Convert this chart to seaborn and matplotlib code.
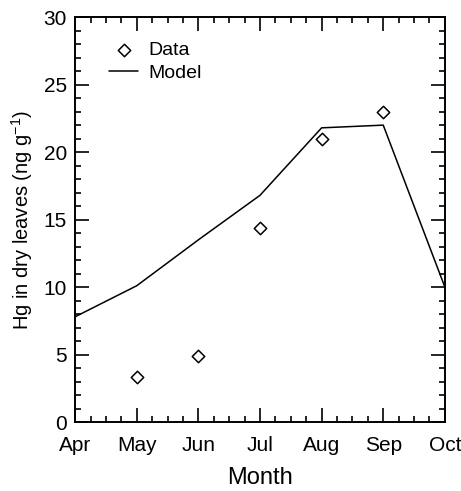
import numpy as np
import pandas as pd
import matplotlib
matplotlib.use('Agg')
import matplotlib.pyplot as plt
import seaborn as sns
from matplotlib.ticker import MultipleLocator

# valores
meses = ['Apr', 'May', 'Jun', 'Jul', 'Aug', 'Sep', 'Oct']
meses_dados = ['May', 'Jun', 'Jul', 'Aug', 'Sep']
hg_dados = [3.3, 4.9, 14.4, 21.0, 23.0]
meses_modelo = ['Apr', 'May', 'Jun', 'Jul', 'Aug', 'Sep', 'Oct']
hg_modelo = [7.8, 10.1, 13.5, 16.8, 21.8, 22.0, 10.0]

df_dados = pd.DataFrame({'mes': [meses.index(m) for m in meses_dados], 'hg': hg_dados})
df_modelo = pd.DataFrame({'mes': [meses.index(m) for m in meses_modelo], 'hg': hg_modelo})

sns.set_style('ticks')
plt.rcParams['font.family'] = ['Liberation Sans', 'DejaVu Sans']
plt.rcParams['mathtext.default'] = 'regular'
for k in ['text.color', 'axes.labelcolor', 'xtick.color', 'ytick.color', 'axes.edgecolor']:
    plt.rcParams[k] = 'black'

fig = plt.figure(figsize=(4.61, 4.91), dpi=100)
ax = fig.add_axes([0.163, 0.1405, 0.802, 0.8245])

sns.scatterplot(data=df_dados, x='mes', y='hg', marker='D', s=40, facecolor='white',
                edgecolor='black', linewidth=1.1, ax=ax, label='Data', zorder=3)
sns.lineplot(data=df_modelo, x='mes', y='hg', color='black', linewidth=1.1, ax=ax, label='Model')

ax.set_xlim(0, 6)
ax.set_ylim(0, 30)
ax.set_xticks(range(len(meses)))
ax.set_xticklabels(meses)
ax.xaxis.set_minor_locator(MultipleLocator(0.25))
ax.yaxis.set_major_locator(MultipleLocator(5))
ax.yaxis.set_minor_locator(MultipleLocator(1))
ax.tick_params(which='both', direction='in', top=True, right=True, labelsize=15, width=1.2)
ax.tick_params(axis='x', pad=10)
ax.tick_params(axis='y', pad=6)
ax.tick_params(which='major', length=10)
ax.tick_params(which='minor', length=4)
for s in ax.spines.values():
    s.set_linewidth(1.4)
    s.set_visible(True)

ax.set_xlabel('Month', fontsize=17, labelpad=9)
ax.set_ylabel('Hg in dry leaves (ng g$^{-1}$)', fontsize=14.5, labelpad=6)

ax.legend(loc='upper left', frameon=False, fontsize=14, handlelength=1.5, handletextpad=0.5,
          bbox_to_anchor=(0.06, 0.97), borderaxespad=0.2, labelspacing=0.3)

plt.savefig('out.png', dpi=100)
plt.close()
